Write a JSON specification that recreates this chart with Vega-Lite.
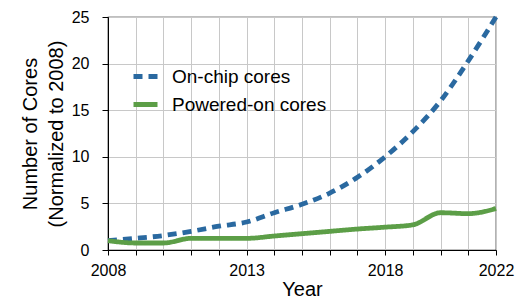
{
  "$schema": "https://vega.github.io/schema/vega-lite/v6.json",
  "width": 388,
  "height": 233,
  "autosize": {"type": "none"},
  "padding": {"left": 108, "top": 17, "right": 24, "bottom": 51},
  "config": {
    "font": "Liberation Sans",
    "view": {"stroke": "#000000", "strokeWidth": 1.2},
    "axis": {
      "domainColor": "#000000",
      "tickColor": "#000000",
      "gridColor": "#c8c8c8",
      "gridWidth": 1,
      "labelColor": "#000000",
      "titleColor": "#000000",
      "titleFontWeight": "normal",
      "labelFontSize": 16,
      "titleFontSize": 20
    }
  },
  "data": {
    "values": [
      {"year": 2008, "series": "On-chip cores", "cores": 1.0},
      {"year": 2009, "series": "On-chip cores", "cores": 1.25},
      {"year": 2010, "series": "On-chip cores", "cores": 1.55},
      {"year": 2011, "series": "On-chip cores", "cores": 2.0},
      {"year": 2012, "series": "On-chip cores", "cores": 2.55},
      {"year": 2013, "series": "On-chip cores", "cores": 3.0},
      {"year": 2014, "series": "On-chip cores", "cores": 4.0},
      {"year": 2015, "series": "On-chip cores", "cores": 4.9},
      {"year": 2016, "series": "On-chip cores", "cores": 6.1},
      {"year": 2017, "series": "On-chip cores", "cores": 7.8},
      {"year": 2018, "series": "On-chip cores", "cores": 10.0},
      {"year": 2019, "series": "On-chip cores", "cores": 12.7},
      {"year": 2020, "series": "On-chip cores", "cores": 16.0},
      {"year": 2021, "series": "On-chip cores", "cores": 20.3},
      {"year": 2022, "series": "On-chip cores", "cores": 25.0},
      {"year": 2008, "series": "Powered-on cores", "cores": 1.0},
      {"year": 2009, "series": "Powered-on cores", "cores": 0.75},
      {"year": 2010, "series": "Powered-on cores", "cores": 0.75},
      {"year": 2011, "series": "Powered-on cores", "cores": 1.25},
      {"year": 2012, "series": "Powered-on cores", "cores": 1.25},
      {"year": 2013, "series": "Powered-on cores", "cores": 1.25},
      {"year": 2014, "series": "Powered-on cores", "cores": 1.5},
      {"year": 2015, "series": "Powered-on cores", "cores": 1.75},
      {"year": 2016, "series": "Powered-on cores", "cores": 2.0},
      {"year": 2017, "series": "Powered-on cores", "cores": 2.25},
      {"year": 2018, "series": "Powered-on cores", "cores": 2.45},
      {"year": 2019, "series": "Powered-on cores", "cores": 2.7},
      {"year": 2020, "series": "Powered-on cores", "cores": 4.0},
      {"year": 2021, "series": "Powered-on cores", "cores": 3.9},
      {"year": 2022, "series": "Powered-on cores", "cores": 4.45}
    ]
  },
  "mark": {"type": "line", "interpolate": "monotone", "strokeWidth": 4.8},
  "encoding": {
    "x": {
      "field": "year",
      "type": "quantitative",
      "scale": {"domain": [2008, 2022], "nice": false, "zero": false},
      "axis": {
        "title": "Year",
        "values": [2008, 2009, 2010, 2011, 2012, 2013, 2014, 2015, 2016, 2017, 2018, 2019, 2020, 2021, 2022],
        "format": "d",
        "labelExpr": "indexof([2008, 2013, 2018, 2022], datum.value) >= 0 ? datum.label : ''",
        "tickSize": 5,
        "labelPadding": 7,
        "titlePadding": 1,
        "labelFlush": false,
        "labelOverlap": false
      }
    },
    "y": {
      "field": "cores",
      "type": "quantitative",
      "scale": {"domain": [0, 25], "nice": false},
      "axis": {
        "title": ["Number of Cores", "(Normalized to 2008)"],
        "values": [0, 5, 10, 15, 20, 25],
        "tickSize": 6,
        "labelPadding": 13,
        "titlePadding": 5,
        "titleLineHeight": 26
      }
    },
    "color": {
      "field": "series",
      "type": "nominal",
      "scale": {"domain": ["On-chip cores", "Powered-on cores"], "range": ["#2a69a0", "#5c9e47"]},
      "legend": {
        "title": null,
        "orient": "none",
        "legendX": 23,
        "legendY": 45,
        "symbolType": "stroke",
        "symbolSize": 576,
        "symbolStrokeWidth": 5,
        "labelFontSize": 19,
        "labelColor": "#000000",
        "labelOffset": 12,
        "rowPadding": 3
      }
    },
    "strokeDash": {
      "field": "series",
      "type": "nominal",
      "scale": {"domain": ["On-chip cores", "Powered-on cores"], "range": [[9, 6], [1, 0]]},
      "legend": {
        "title": null,
        "orient": "none",
        "legendX": 23,
        "legendY": 45,
        "symbolType": "stroke",
        "symbolSize": 576,
        "symbolStrokeWidth": 5,
        "labelFontSize": 19,
        "labelColor": "#000000",
        "labelOffset": 12,
        "rowPadding": 3
      }
    }
  }
}
